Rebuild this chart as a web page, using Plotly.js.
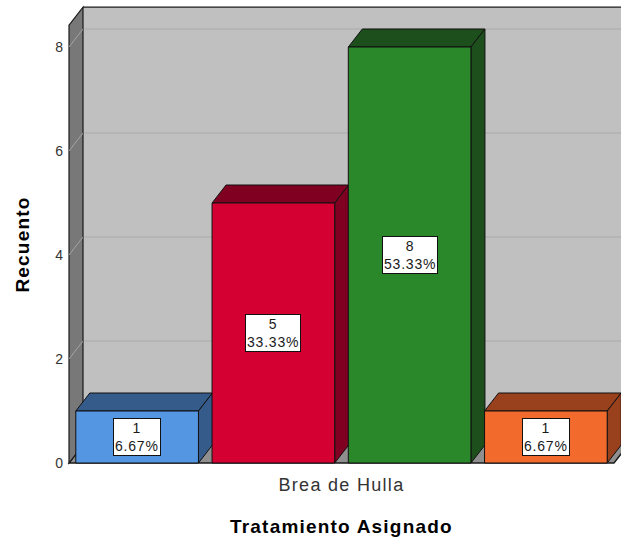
<!DOCTYPE html>
<html>
<head>
<meta charset="utf-8">
<script src="https://cdn.plot.ly/plotly-3.0.1.min.js"></script>
<style>
  html, body { margin: 0; padding: 0; background: #ffffff; }
  #chart { width: 621px; height: 544px; }
  .xtick text { letter-spacing: 1.3px; }
  .annotation-text { letter-spacing: 0.8px; }
  .annotation[data-index="4"] .annotation-text,
  .annotation[data-index="5"] .annotation-text { letter-spacing: 1.2px; }
</style>
</head>
<body>
<div id="chart"></div>
<script>
// Recuento por grupo dentro de "Brea de Hulla"
const category = 'Brea de Hulla';
const groups = ['Grupo 1', 'Grupo 2', 'Grupo 3', 'Grupo 4'];
const counts = [1, 5, 8, 1];
const yTicks = [0, 2, 4, 6, 8];

// front face / side+top face colours per group
const frontColors = ['#5596e2', '#d50032', '#2a872a', '#f26b2d'];
const shadeColors = ['#355b8b', '#800021', '#1c4f1b', '#99401d'];

// ---- geometry of the pseudo-3D box (pixels) ----
const W = 621, H = 544;
const M = { l: 66, r: 0, t: 5, b: 77 };
const plotW = W - M.l - M.r;           // 555
const plotH = H - M.t - M.b;           // 462
const frontLeftPx = 69;                // front plane left edge
const unitXPx = 545;                   // one category width on the front plane
const zeroPx = 463;                    // y pixel of 0 on the front plane
const unitYPx = 52;                    // pixels per count
const depthXPx = 14, depthYPx = 18;    // receding depth

const xMin = -0.5 - (frontLeftPx - M.l) / unitXPx;
const xMax = xMin + plotW / unitXPx;
const yMin = -(M.t + plotH - zeroPx) / unitYPx;
const yMax = yMin + plotH / unitYPx;
const dx = depthXPx / unitXPx;
const dy = depthYPx / unitYPx;
const wallTop = 8.42;

const n = counts.length;
const slot = 1 / n;
const barW = slot * 0.9;
const barLeft = i => -0.5 + i * slot + (slot - barW) / 2;

const total = counts.reduce((a, b) => a + b, 0);

function poly(pts) {
  return 'M' + pts.map(p => p[0] + ',' + p[1]).join('L') + 'Z';
}

const shapes = [];
// back wall
shapes.push({ type: 'path', layer: 'below', xref: 'x', yref: 'y',
  path: poly([[-0.5 + dx, dy], [0.5 + dx, dy], [0.5 + dx, wallTop + dy], [-0.5 + dx, wallTop + dy]]),
  fillcolor: '#c0c0c0', line: { width: 0 } });
// grid lines on the back wall
yTicks.filter(v => v > 0).forEach(v => {
  shapes.push({ type: 'line', layer: 'below', xref: 'x', yref: 'y',
    x0: -0.5 + dx, x1: 0.5 + dx, y0: v + dy, y1: v + dy,
    line: { color: '#aaaaaa', width: 1 } });
});
// back wall top edge
shapes.push({ type: 'line', layer: 'below', xref: 'x', yref: 'y',
  x0: -0.5 + dx, x1: 0.5 + dx, y0: wallTop + dy, y1: wallTop + dy,
  line: { color: '#1a1a1a', width: 1.2 } });
// floor
shapes.push({ type: 'path', layer: 'below', xref: 'x', yref: 'y',
  path: poly([[-0.5, 0], [0.5, 0], [0.5 + dx, dy], [-0.5 + dx, dy]]),
  fillcolor: '#8f8f8f', line: { color: '#1a1a1a', width: 1.4 } });
// left wall
shapes.push({ type: 'path', layer: 'below', xref: 'x', yref: 'y',
  path: poly([[-0.5, 0], [-0.5, wallTop], [-0.5 + dx, wallTop + dy], [-0.5 + dx, dy]]),
  fillcolor: '#787878', line: { color: '#1a1a1a', width: 1.2 } });
// grid lines running across the left wall
yTicks.filter(v => v > 0).forEach(v => {
  shapes.push({ type: 'line', layer: 'below', xref: 'x', yref: 'y',
    x0: -0.5, x1: -0.5 + dx, y0: v, y1: v + dy,
    line: { color: '#a4a4a4', width: 1 } });
});
// top and side faces of each bar
counts.forEach((c, i) => {
  const x0 = barLeft(i), x1 = x0 + barW;
  shapes.push({ type: 'path', layer: 'below', xref: 'x', yref: 'y',
    path: poly([[x0, c], [x1, c], [x1 + dx, c + dy], [x0 + dx, c + dy]]),
    fillcolor: shadeColors[i], line: { color: '#111111', width: 1 } });
  shapes.push({ type: 'path', layer: 'below', xref: 'x', yref: 'y',
    path: poly([[x1, 0], [x1, c], [x1 + dx, c + dy], [x1 + dx, dy]]),
    fillcolor: shadeColors[i], line: { color: '#111111', width: 1 } });
});

// front faces
const traces = counts.map((c, i) => ({
  type: 'bar',
  name: groups[i],
  x: [0],
  y: [c],
  width: barW,
  offset: barLeft(i),
  marker: { color: frontColors[i], line: { color: '#111111', width: 1 } },
  hoverinfo: 'skip',
  showlegend: false
}));

// value labels inside bars
const annotations = counts.map((c, i) => ({
  xref: 'x', yref: 'y',
  x: barLeft(i) + barW / 2, y: c / 2,
  text: c + '<br>' + (c / total * 100).toFixed(2) + '%',
  showarrow: false, align: 'center',
  bgcolor: '#ffffff', bordercolor: '#111111', borderwidth: 1, borderpad: 1,
  font: { family: 'Liberation Sans, Arial, sans-serif', size: 14, color: '#1a1a1a' }
}));
// axis titles
annotations.push({
  xref: 'paper', yref: 'paper',
  x: (23 - M.l) / plotW, y: (M.t + plotH - 245) / plotH,
  xanchor: 'center', yanchor: 'middle', textangle: -90,
  text: '<b>Recuento</b>', showarrow: false,
  font: { family: 'Liberation Sans, Arial, sans-serif', size: 19, color: '#000000' }
});
annotations.push({
  xref: 'paper', yref: 'paper',
  x: (341 - M.l) / plotW, y: (M.t + plotH - 526) / plotH,
  xanchor: 'center', yanchor: 'middle',
  text: '<b>Tratamiento Asignado</b>', showarrow: false,
  font: { family: 'Liberation Sans, Arial, sans-serif', size: 19, color: '#000000' }
});

const layout = {
  width: W, height: H,
  margin: M,
  paper_bgcolor: '#ffffff',
  plot_bgcolor: '#ffffff',
  barmode: 'overlay',
  showlegend: false,
  xaxis: {
    range: [xMin, xMax],
    tickvals: [0], ticktext: [category],
    showgrid: false, zeroline: false, showline: false,
    ticks: '', ticklabelstandoff: 5,
    tickfont: { family: 'Liberation Sans, Arial, sans-serif', size: 18, color: '#333333' },
    fixedrange: true
  },
  yaxis: {
    range: [yMin, yMax],
    tickvals: yTicks,
    showgrid: false, zeroline: false, showline: false,
    ticks: '', ticklabelstandoff: 2,
    tickfont: { family: 'Liberation Sans, Arial, sans-serif', size: 14, color: '#333333' },
    fixedrange: true
  },
  shapes: shapes,
  annotations: annotations
};

Plotly.newPlot('chart', traces, layout, { displayModeBar: false, staticPlot: true });
</script>
</body>
</html>
